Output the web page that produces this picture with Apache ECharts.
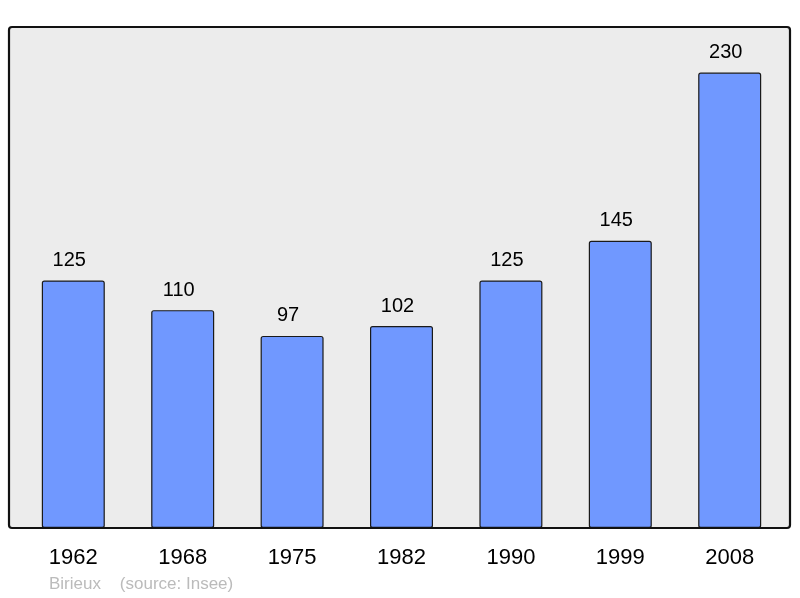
<!DOCTYPE html>
<html>
<head>
<meta charset="utf-8">
<script src="https://cdn.jsdelivr.net/npm/echarts@6/dist/echarts.min.js"></script>
<style>html,body{margin:0;padding:0;background:#fff;}#c{width:800px;height:598px;}</style>
</head>
<body>
<div id="c"></div>
<script>
const categories = ['1962', '1968', '1975', '1982', '1990', '1999', '2008'];
const population = [125, 110, 97, 102, 125, 145, 230];
const sourceText = 'Birieux    (source: Insee)';

const chart = echarts.init(document.getElementById('c'));
chart.setOption({
  animation: false,
  backgroundColor: '#ffffff',
  grid: { left: 18.6, right: 15.6, top: 27, bottom: 70, containLabel: false },
  xAxis: {
    type: 'category',
    data: categories,
    axisLine: { show: false },
    axisTick: { show: false },
    axisLabel: { fontFamily: 'Liberation Sans', fontSize: 22, color: '#000', margin: 19 }
  },
  yAxis: {
    type: 'value', min: 0, max: 253,
    show: false
  },
  graphic: [
    { type: 'rect', z: -10, shape: { x: 9, y: 27, width: 781, height: 501, r: 3 },
      style: { fill: '#ececec', stroke: null } },
    { type: 'rect', z: 100, shape: { x: 9, y: 27, width: 781, height: 501, r: 3 },
      style: { fill: 'none', stroke: '#111111', lineWidth: 2.2 } },
    { type: 'text', z: 100, left: 49, top: 576,
      style: { text: sourceText, fill: '#bbbbbb', font: '17px "Liberation Sans"' } }
  ],
  series: [{
    type: 'bar',
    data: population,
    barWidth: 63,
    itemStyle: { color: '#7098ff', borderColor: '#1a1a1a', borderWidth: 1.2, borderRadius: 2 },
    label: { show: true, position: 'top', distance: 10, offset: [-4, 0], fontFamily: 'Liberation Sans', fontSize: 20, color: '#000' }
  }]
});
</script>
</body>
</html>
